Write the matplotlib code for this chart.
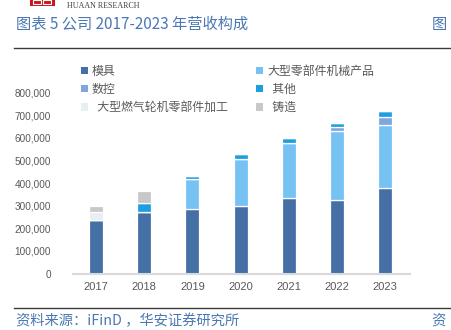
import matplotlib
matplotlib.use("Agg")
import matplotlib.pyplot as plt
from matplotlib.patches import Rectangle, Patch
from matplotlib.lines import Line2D
import numpy as np

years = ["2017", "2018", "2019", "2020", "2021", "2022", "2023"]
mold = [237000, 273000, 284000, 297000, 333000, 325000, 378000]
large_parts = [0, 0, 134000, 211000, 246000, 307000, 279000]
cnc = [0, 0, 0, 0, 0, 16000, 37000]
other = [0, 38000, 12000, 21000, 21000, 17000, 24000]
gas_turbine = [34000, 0, 0, 0, 0, 0, 0]
casting = [28000, 54000, 0, 0, 0, 0, 0]

series_names = ["模具", "大型零部件机械产品", "数控", "其他", "大型燃气轮机零部件加工", "铸造"]
series_vals = [mold, large_parts, cnc, other, gas_turbine, casting]
colors = ["#4570A6", "#76C2F3", "#7FA6DD", "#1F9DE1", "#E8EFF2", "#C8C8C8"]
yticks = [0, 100000, 200000, 300000, 400000, 500000, 600000, 700000, 800000]

W, H = 451, 330
fig = plt.figure(figsize=(W / 100, H / 100), dpi=100)

def fx(px):
    return px / W

def fy(py):
    return 1 - py / H

cjk = ["Noto Sans CJK SC", "DejaVu Sans"]

# axes placement (pixel-based)
ax_left, ax_right = 73, 410
ax_bottom, ax_top = 273.5, 273.5 - 9 * 22.6
ax = fig.add_axes([fx(ax_left), fy(ax_bottom), fx(ax_right) - fx(ax_left), fy(ax_top) - fy(ax_bottom)])

x = np.arange(len(years))
bottom = np.zeros(len(years))
handles = []
for name, vals, c in zip(series_names, series_vals, colors):
    v = np.array(vals, dtype=float)
    ax.bar(x, v, width=0.29, bottom=bottom, color=c, edgecolor="white", linewidth=0.9, zorder=2)
    bottom += v
    handles.append(Patch(facecolor=c, edgecolor="none", label=name))

ax.set_xlim(-0.48, 6.52)
ax.set_ylim(0, 900000)
ax.set_xticks(x)
ax.set_xticklabels(years, fontfamily="Liberation Sans", fontsize=8, color="#595959")
ax.set_yticks(yticks)
ax.set_yticklabels([f"{t:,}" for t in yticks], fontfamily="Liberation Sans", fontsize=7.2, color="#595959")
ax.tick_params(axis="both", length=0)
ax.tick_params(axis="y", pad=16)
ax.tick_params(axis="x", pad=6)
for s in ["top", "right", "left"]:
    ax.spines[s].set_visible(False)
ax.spines["bottom"].set_color("#D9D9D9")
ax.spines["bottom"].set_linewidth(1.5)
ax.patch.set_alpha(0)

# legend (column-first fill for ncol=2)
order = [0, 2, 4, 1, 3, 5]
labels = ["模具", "数控", "  大型燃气轮机零部件加工", "大型零部件机械产品", "  其他", "  铸造"]
leg = fig.legend([handles[i] for i in order], labels, ncol=2,
                 loc="upper left", bbox_to_anchor=(fx(81), fy(64.5)),
                 frameon=False, prop={"family": cjk, "size": 8.6},
                 handlelength=0.55, handleheight=0.55, handletextpad=0.35,
                 labelspacing=0.45, columnspacing=2.4, borderpad=0, borderaxespad=0)
for t in leg.get_texts():
    t.set_color("#595959")

blue = "#4A78B4"
# header
fig.add_artist(Rectangle((fx(30), fy(6)), fx(25), fy(0) - fy(6), transform=fig.transFigure,
                         facecolor="#C8161D", edgecolor="none"))
for xx in (33, 43):
    fig.add_artist(Rectangle((fx(xx), fy(4)), fx(8), fy(0) - fy(4), transform=fig.transFigure,
                             facecolor="none", edgecolor="white", linewidth=0.8))
fig.text(fx(67), fy(5.5), "HUAAN RESEARCH", fontfamily="Liberation Serif", fontsize=5.8,
         color="#404040", va="center", ha="left")

fig.text(fx(16), fy(24), "图表 5 公司 2017-2023 年营收构成", fontfamily=cjk, fontsize=11,
         color=blue, va="center", ha="left")
fig.text(fx(432), fy(24), "图", fontfamily=cjk, fontsize=11, color=blue, va="center", ha="left")

fig.add_artist(Line2D([fx(14), 1], [fy(48), fy(48)], transform=fig.transFigure, color="#3A3A3A", linewidth=1.0))
fig.add_artist(Line2D([fx(14), 1], [fy(307.5), fy(307.5)], transform=fig.transFigure, color="#3A3A3A", linewidth=1.0))

fig.text(fx(16), fy(321), "资料来源：iFinD ，华安证券研究所", fontfamily=cjk, fontsize=10.3,
         color=blue, va="center", ha="left")
fig.text(fx(431), fy(321), "资", fontfamily=cjk, fontsize=10.3, color=blue, va="center", ha="left")

fig.savefig("out.png", dpi=100)
